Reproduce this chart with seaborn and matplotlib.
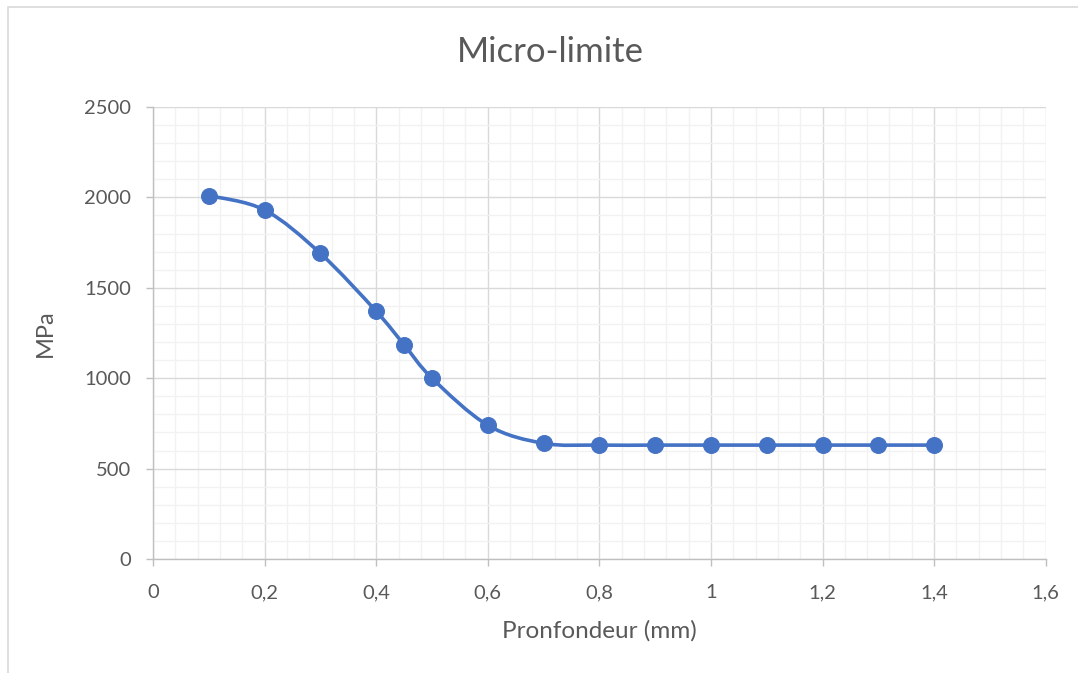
import matplotlib
matplotlib.use("Agg")
import matplotlib.pyplot as plt
import seaborn as sns
import numpy as np
import pandas as pd
from matplotlib.path import Path
from matplotlib.patches import PathPatch, Rectangle
from matplotlib.ticker import MultipleLocator, FuncFormatter

# Data
profondeur = [0.1, 0.2, 0.3, 0.4, 0.45, 0.5, 0.6, 0.7, 0.8, 0.9, 1.0, 1.1, 1.2, 1.3, 1.4]
contrainte = [2010, 1930, 1690, 1370, 1185, 1000, 740, 640, 630, 630, 630, 630, 630, 630, 630]

df = pd.DataFrame({"x": profondeur, "y": contrainte})

sns.set_theme(style="white")
plt.rcParams["font.family"] = ["Lato", "DejaVu Sans"]

blue = "#4472C4"
txt = "#595959"

fig = plt.figure(figsize=(10.78, 6.73), dpi=100)
ax = fig.add_axes([0.142, 0.1694, 0.828, 0.6716])

# smoothed line like Excel (Catmull-Rom style bezier through the points)
pts = np.column_stack([df["x"], df["y"]])
verts = [tuple(pts[0])]
codes = [Path.MOVETO]
n = len(pts)
for i in range(n - 1):
    p0 = pts[i - 1] if i > 0 else pts[i]
    p1 = pts[i]
    p2 = pts[i + 1]
    p3 = pts[i + 2] if i + 2 < n else pts[i + 1]
    c1 = p1 + (p2 - p0) / 6
    c2 = p2 - (p3 - p1) / 6
    verts += [tuple(c1), tuple(c2), tuple(p2)]
    codes += [Path.CURVE4] * 3
ax.add_patch(PathPatch(Path(verts, codes), fill=False, edgecolor=blue, lw=2.6,
                       capstyle="round", joinstyle="round", zorder=3))

sns.scatterplot(data=df, x="x", y="y", ax=ax, color=blue, s=130, edgecolor=blue,
                linewidth=0.8, zorder=4)

ax.set_xlim(0, 1.6)
ax.set_ylim(0, 2500)
ax.xaxis.set_major_locator(MultipleLocator(0.2))
ax.xaxis.set_minor_locator(MultipleLocator(0.04))
ax.yaxis.set_major_locator(MultipleLocator(500))
ax.yaxis.set_minor_locator(MultipleLocator(100))
ax.xaxis.set_major_formatter(FuncFormatter(lambda v, p: ("%g" % round(v, 1)).replace(".", ",")))

ax.grid(which="major", color="#D9D9D9", lw=1.0, zorder=0)
ax.grid(which="minor", color="#F2F2F2", lw=1.0, zorder=0)
ax.set_axisbelow(True)

for s in ["top", "right"]:
    ax.spines[s].set_visible(False)
for s in ["left", "bottom"]:
    ax.spines[s].set_color("#BFBFBF")
    ax.spines[s].set_linewidth(1.0)

ax.tick_params(axis="both", which="major", direction="out", length=5, width=1,
               color="#BFBFBF", labelsize=14.5, labelcolor=txt, bottom=True, left=True)
ax.tick_params(axis="x", which="major", pad=13)
ax.tick_params(axis="y", which="major", pad=11)
ax.tick_params(axis="both", which="minor", length=0)

ax.set_xlabel("Pronfondeur (mm)", fontsize=17.5, color=txt, labelpad=14)
ax.set_ylabel("MPa", fontsize=17, color=txt, labelpad=20)
fig.text(0.511, 0.922, "Micro-limite", ha="center", va="center", fontsize=25, color=txt)

fig.patches.append(Rectangle((8 / 1078, -0.01), 1.1, 1 - 7 / 673 + 0.01, transform=fig.transFigure,
                             fill=False, edgecolor="#D9D9D9", lw=1.2))

fig.savefig("out.png", dpi=100)
